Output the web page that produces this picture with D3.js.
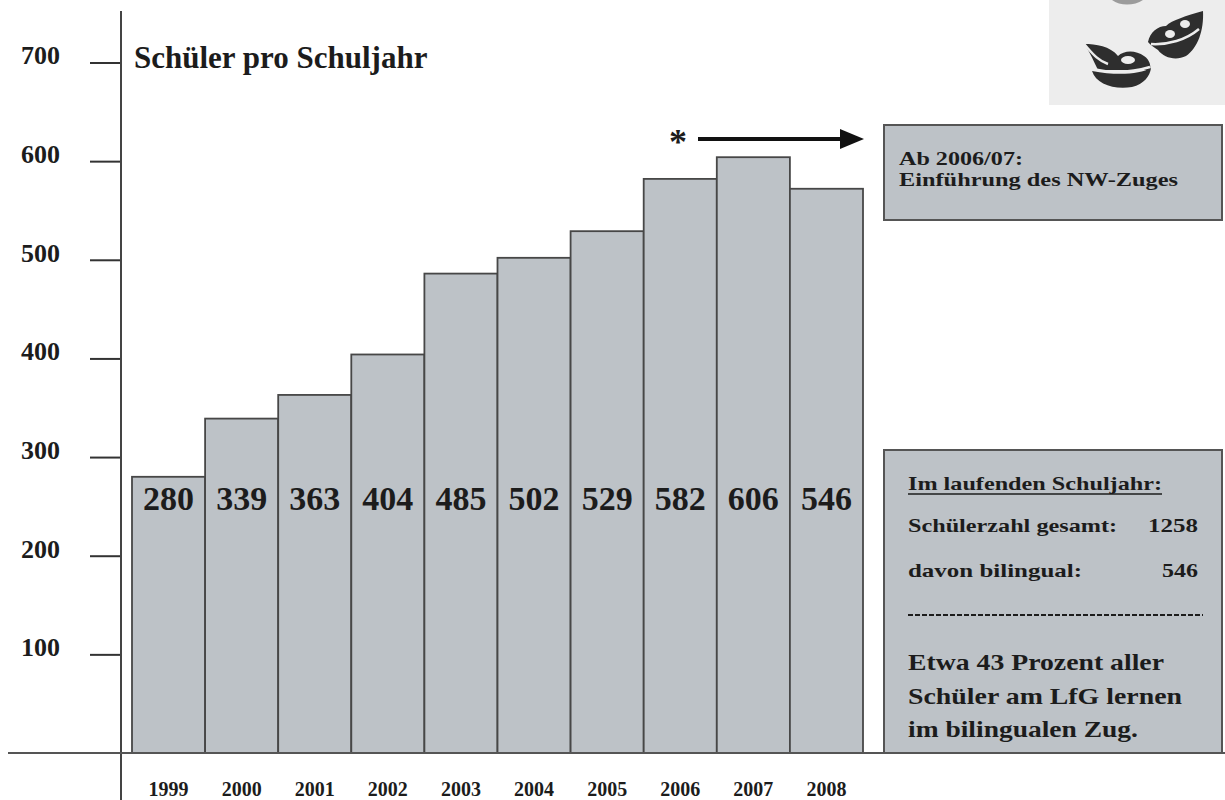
<!DOCTYPE html>
<html>
<head>
<meta charset="utf-8">
<script src="https://cdn.jsdelivr.net/npm/d3@7"></script>
<style>
  html, body { margin: 0; padding: 0; background: #ffffff; }
  svg { display: block; }
  text { font-family: "Liberation Serif", "Times New Roman", serif; font-weight: bold; fill: #1c1c1c; }
</style>
</head>
<body>
<script>
// ---- data ----
const years = ["1999", "2000", "2001", "2002", "2003", "2004", "2005", "2006", "2007", "2008"];
const barHeights = [280, 339, 363, 404, 486, 502, 529, 582, 604, 572];
const barLabels = ["280", "339", "363", "404", "485", "502", "529", "582", "606", "546"];
const yTicks = [100, 200, 300, 400, 500, 600, 700];
const title = "Schüler pro Schuljahr";
const noteLines = ["Ab 2006/07:", "Einführung des NW-Zuges"];
const infoHeading = "Im laufenden Schuljahr:";
const infoRows = [["Schülerzahl gesamt:", "1258"], ["davon  bilingual:", "546"]];
const infoSummary = ["Etwa 43 Prozent aller", "Schüler am LfG lernen", "im bilingualen Zug."];

const W = 1225, H = 800;
const svg = d3.select("body").append("svg").attr("width", W).attr("height", H);

const x = d3.scaleBand().domain(years).range([132, 863]).padding(0);
const y = d3.scaleLinear().domain([0, 700]).range([753, 62.5]);

const barFill = "#bdc2c7";
const edge = "#474747";

// logo (decorative)
const logo = svg.append("g");
const logoBg = "#ededed", ink = "#2e2e2e";
logo.append("rect").attr("x", 1049).attr("y", 0).attr("width", 176).attr("height", 105).attr("fill", logoBg);
logo.append("path").attr("d", "M1112,0 C1120,6 1134,6 1143,0 Z").attr("fill", "#9c9c9c");
// lower-left leaf
logo.append("path")
  .attr("d", "M1084,44 C1096,44 1110,46 1118,56 C1124,50 1136,50 1144,56 C1150,60 1151,66 1150,70 L1098,70 C1094,62 1090,52 1084,44 Z")
  .attr("fill", ink);
logo.append("path")
  .attr("d", "M1092,71 C1096,84 1114,90 1132,87 C1144,84 1150,76 1151,68 C1140,74 1118,76 1092,71 Z")
  .attr("fill", ink);
logo.append("path")
  .attr("d", "M1082,42 C1090,50 1096,60 1108,64")
  .attr("fill", "none").attr("stroke", logoBg).attr("stroke-width", 2.5);
logo.append("path")
  .attr("d", "M1092,69 C1110,73 1130,73 1150,67")
  .attr("fill", "none").attr("stroke", logoBg).attr("stroke-width", 2.5);
logo.append("ellipse").attr("cx", 1128).attr("cy", 60).attr("rx", 7).attr("ry", 4).attr("fill", logoBg);
// upper-right leaf
logo.append("path")
  .attr("d", "M1148,42 C1150,32 1158,26 1166,26 C1172,20 1186,16 1203,11 C1204,30 1198,48 1186,56 C1176,61 1164,58 1158,50 C1154,47 1150,45 1148,42 Z")
  .attr("fill", ink);
logo.append("path")
  .attr("d", "M1151,44 C1168,45 1186,40 1199,29")
  .attr("fill", "none").attr("stroke", logoBg).attr("stroke-width", 2.5);
logo.append("ellipse").attr("cx", 1170).attr("cy", 34).attr("rx", 5).attr("ry", 4).attr("fill", logoBg);
logo.append("ellipse").attr("cx", 1185).attr("cy", 24).attr("rx", 5).attr("ry", 4).attr("fill", logoBg);

// bars
svg.append("g").selectAll("rect").data(years).join("rect")
  .attr("x", d => x(d))
  .attr("y", (d, i) => y(barHeights[i]))
  .attr("width", x.bandwidth())
  .attr("height", (d, i) => y(0) - y(barHeights[i]))
  .attr("fill", barFill)
  .attr("stroke", edge)
  .attr("stroke-width", 1.8);

// bar value labels
svg.append("g").selectAll("text").data(years).join("text")
  .attr("x", d => x(d) + x.bandwidth() / 2)
  .attr("y", 510)
  .attr("text-anchor", "middle")
  .attr("font-size", 34)
  .text((d, i) => barLabels[i]);

// y axis
const yAxis = svg.append("g").attr("transform", "translate(121,0)")
  .call(d3.axisLeft(y).tickValues(yTicks).tickSize(31).tickPadding(30).tickFormat(d3.format("d")));
yAxis.select(".domain").remove();
yAxis.selectAll(".tick line").attr("stroke", "#333").attr("stroke-width", 2);
yAxis.selectAll(".tick text")
  .attr("font-family", "Liberation Serif, serif").attr("font-weight", "bold")
  .attr("font-size", 26).attr("fill", "#1c1c1c").attr("dy", "0.05em");

// vertical axis line
svg.append("line").attr("x1", 121).attr("x2", 121).attr("y1", 11).attr("y2", H)
  .attr("stroke", "#444").attr("stroke-width", 2);

// x axis baseline + labels
const xAxis = svg.append("g").attr("transform", `translate(0,${y(0)})`)
  .call(d3.axisBottom(x).tickSize(0).tickPadding(29));
xAxis.select(".domain").remove();
xAxis.selectAll(".tick text")
  .attr("font-family", "Liberation Serif, serif").attr("font-weight", "bold")
  .attr("font-size", 20).attr("fill", "#1c1c1c");

svg.append("line").attr("x1", 8).attr("x2", W).attr("y1", y(0)).attr("y2", y(0))
  .attr("stroke", "#555").attr("stroke-width", 2);

// title
svg.append("text").attr("x", 134).attr("y", 68).attr("font-size", 31).text(title);

// asterisk + arrow
svg.append("text").attr("x", 678).attr("y", 154).attr("text-anchor", "middle").attr("font-size", 36).text("*");
svg.append("line").attr("x1", 698).attr("x2", 842).attr("y1", 139).attr("y2", 139)
  .attr("stroke", "#111").attr("stroke-width", 4);
svg.append("path").attr("d", "M840,129 L864,139 L840,149 Z").attr("fill", "#111");

// top note box
svg.append("rect").attr("x", 884).attr("y", 125).attr("width", 338).attr("height", 95)
  .attr("fill", barFill).attr("stroke", "#555").attr("stroke-width", 2);
const noteW = [124, 279];
svg.append("g").selectAll("text").data(noteLines).join("text")
  .attr("x", 899).attr("y", (d, i) => 165 + i * 21)
  .attr("font-size", 19)
  .attr("textLength", (d, i) => noteW[i]).attr("lengthAdjust", "spacingAndGlyphs")
  .text(d => d);

// info box
svg.append("rect").attr("x", 884).attr("y", 450).attr("width", 338).attr("height", y(0) - 450)
  .attr("fill", barFill).attr("stroke", "#555").attr("stroke-width", 2);
svg.append("text").attr("x", 908).attr("y", 490).attr("font-size", 19.5)
  .attr("textLength", 254).attr("lengthAdjust", "spacingAndGlyphs").text(infoHeading);
svg.append("line").attr("x1", 908).attr("x2", 1162).attr("y1", 494).attr("y2", 494)
  .attr("stroke", "#1c1c1c").attr("stroke-width", 1.5);
const rowW = [209, 174];
const rowValW = [50, 36];
infoRows.forEach((r, i) => {
  const by = 532 + i * 45;
  svg.append("text").attr("x", 908).attr("y", by).attr("font-size", 19.5)
    .attr("textLength", rowW[i]).attr("lengthAdjust", "spacingAndGlyphs").text(r[0]);
  svg.append("text").attr("x", 1198 - rowValW[i]).attr("y", by).attr("font-size", 19.5)
    .attr("textLength", rowValW[i]).attr("lengthAdjust", "spacingAndGlyphs").text(r[1]);
});
svg.append("line").attr("x1", 908).attr("x2", 1203).attr("y1", 615).attr("y2", 615)
  .attr("stroke", "#1c1c1c").attr("stroke-width", 2).attr("stroke-dasharray", "5,2");
const sumW = [256, 274, 230];
svg.append("g").selectAll("text").data(infoSummary).join("text")
  .attr("x", 908).attr("y", (d, i) => 670 + i * 33.5)
  .attr("font-size", 24)
  .attr("textLength", (d, i) => sumW[i]).attr("lengthAdjust", "spacingAndGlyphs")
  .text(d => d);
</script>
</body>
</html>
